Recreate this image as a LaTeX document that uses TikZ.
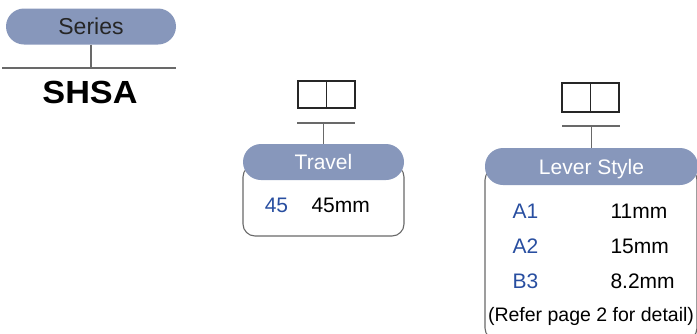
\documentclass[tikz,border=0pt]{standalone}
\usepackage{fontspec}
\setmainfont{Liberation Sans}
\usetikzlibrary{positioning}
\definecolor{pillblue}{RGB}{135,151,187}
\definecolor{codeblue}{RGB}{40,78,160}
\definecolor{linegray}{RGB}{105,105,105}

\begin{document}
\begin{tikzpicture}[x=1pt,y=-1pt,
				pill/.style={rounded corners=18pt, fill=pillblue, inner sep=0pt, minimum height=36pt,
					text height=15pt, text depth=0pt, font=\fontsize{21}{24}\selectfont},
				codebox/.style={draw=black!85, line width=1.3pt, inner sep=0pt, outer sep=0pt,
					minimum width=28.5pt, minimum height=27pt},
				panel/.style={draw=linegray, line width=1.1pt, rounded corners=12pt},
				bar/.style={draw=linegray, line width=1.2pt},
				key/.style={anchor=base, text=codeblue, font=\fontsize{21}{24}\selectfont},
				val/.style={anchor=base west, font=\fontsize{21}{24}\selectfont}
			]
			\useasboundingbox (0,0) rectangle (697,333);
			\clip (0,0) rectangle (697,333);
			
			% series
			\node[pill, minimum width=170pt, text=black!85, font=\fontsize{23}{26}\selectfont, text height=16pt] (s_pill) at (91,26.5) {Series};
			\coordinate (s_bar_l) at (2,68);
			\coordinate (s_bar_r) at (176,68);
			\draw[bar] (s_bar_l) -- (s_bar_r);
			\draw[bar] (s_pill.south) -- (s_pill.south |- s_bar_l);
			\node[anchor=base, font=\bfseries\fontsize{32}{36}\selectfont, xscale=1.07] (s_name) at (90,103) {SHSA};
			
			% travel
			\node[codebox] (t_code1) at (312.25,94.5) {};
			\node[codebox, right=0pt of t_code1] (t_code2) {};
			\coordinate (t_bar_l) at (297,123);
			\coordinate (t_bar_r) at (355,123);
			\draw[bar] (t_bar_l) -- (t_bar_r);
			\draw[panel] (243,165) rectangle (404,236);
			\node[pill, minimum width=161pt, text=white] (t_pill) at (323.5,162) {Travel};
			\draw[bar] (t_pill.north) -- (t_pill.north |- t_bar_l);
			\node[key] (t_45) at (276.5,212) {45};
			\node[val] (t_45mm) at (308,212) {45mm};
			
			% lever style
			\node[codebox, minimum height=29pt] (l_code1) at (576.25,97.5) {};
			\node[codebox, minimum height=29pt, right=0pt of l_code1] (l_code2) {};
			\coordinate (l_bar_l) at (562,126);
			\coordinate (l_bar_r) at (620,126);
			\draw[bar] (l_bar_l) -- (l_bar_r);
			\draw[panel] (485,168) rectangle (697,340);
			\node[pill, minimum width=213pt, minimum height=37pt, text=white] (l_pill) at (591.5,166.5) {Lever Style};
			\draw[bar] (l_pill.north) -- (l_pill.north |- l_bar_l);
			\node[key] (l_a1) at (525.5,218) {A1};
			\node[val] (l_a1v) at (607,218) {11mm};
			\node[key] (l_a2) at (525.5,253) {A2};
			\node[val] (l_a2v) at (607,253) {15mm};
			\node[key] (l_b3) at (525.5,288) {B3};
			\node[val] (l_b3v) at (607,288) {8.2mm};
			\node[anchor=base, font=\fontsize{19.5}{24}\selectfont] (l_note) at (591,321.5) {(Refer page 2 for detail)};
		\end{tikzpicture}
\end{document}
